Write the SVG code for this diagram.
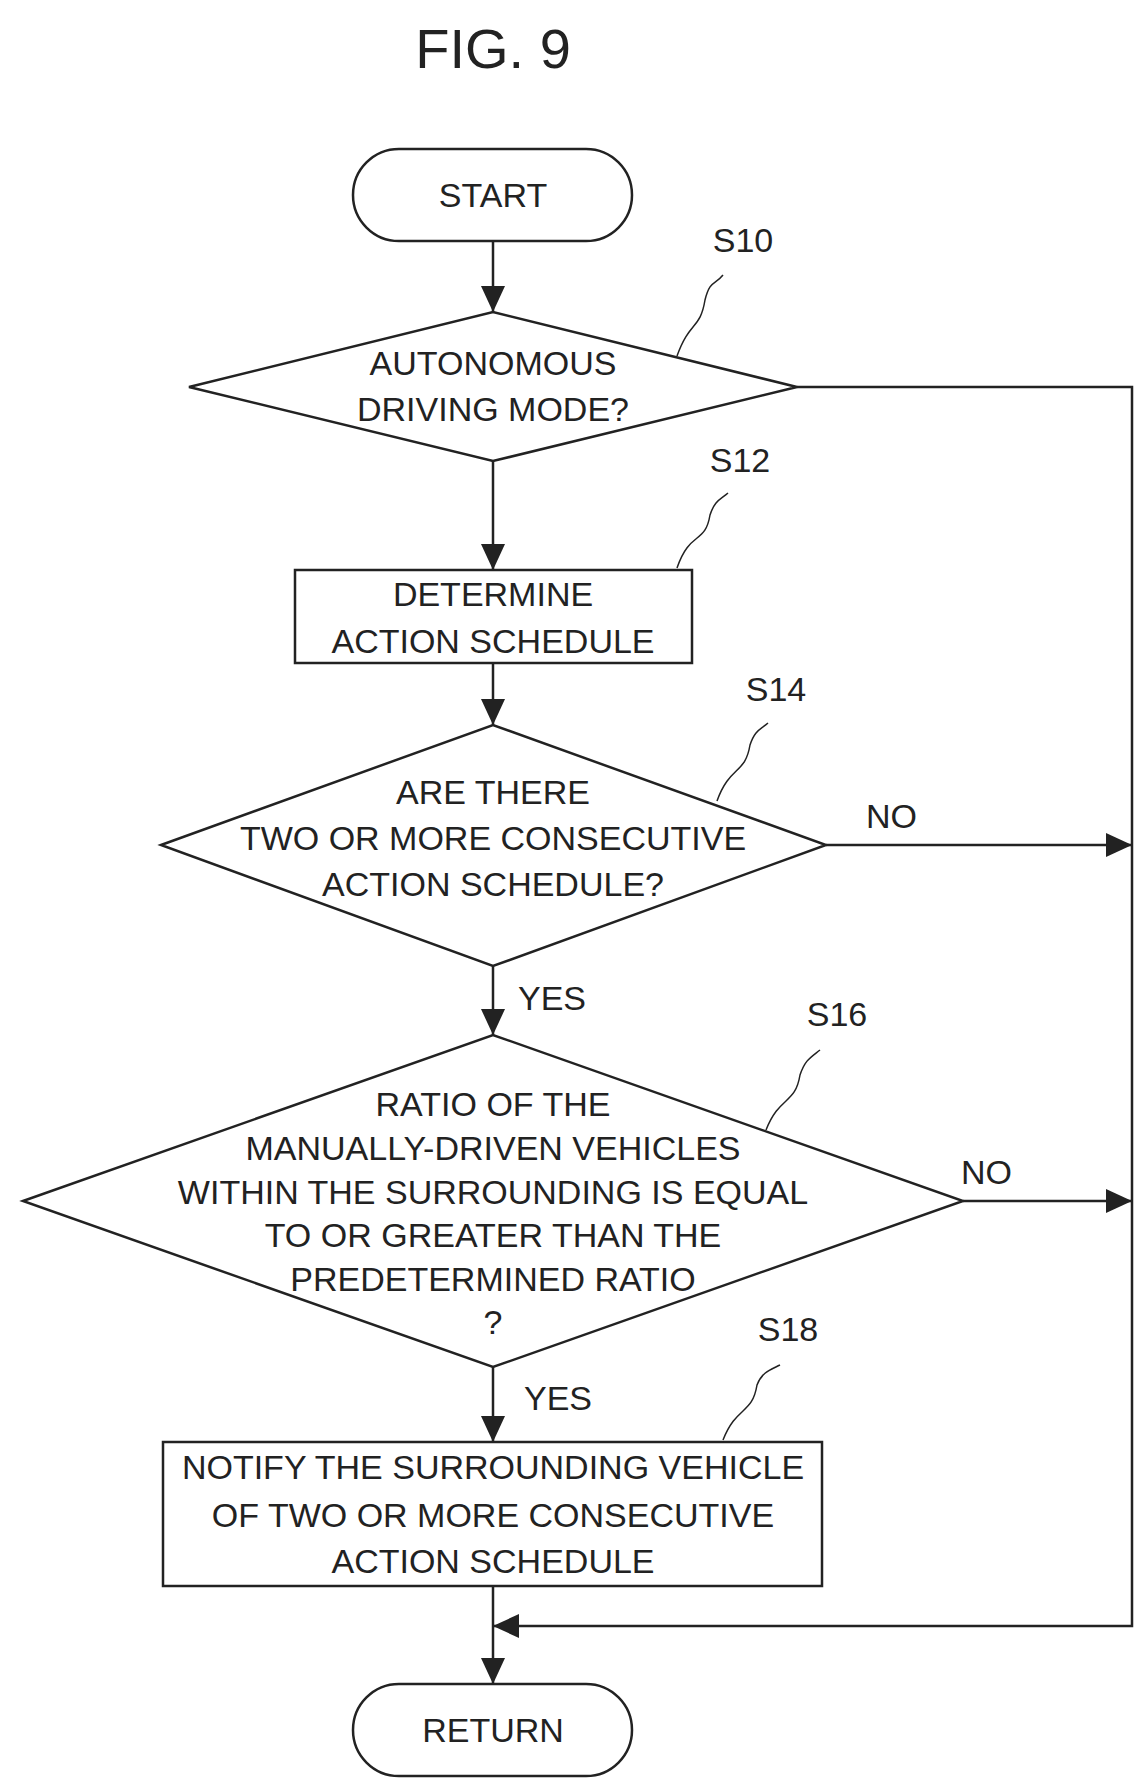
<svg xmlns="http://www.w3.org/2000/svg" width="1147" height="1790" viewBox="0 0 1147 1790">
<style>
.s{fill:none;stroke:#222;stroke-width:2.5}
.t{font-family:"Liberation Sans",Arial,sans-serif;font-size:34px;fill:#222;text-anchor:middle}
.l{font-family:"Liberation Sans",Arial,sans-serif;font-size:34px;fill:#222}
</style>
<defs><marker id="a" markerWidth="10" markerHeight="10" refX="9" refY="5" orient="auto" markerUnits="userSpaceOnUse" viewBox="0 0 10 10"><path d="M0,0L10,5L0,10z" fill="#222"/></marker>
<marker id="b" markerWidth="26" markerHeight="24" refX="26" refY="12" orient="auto" markerUnits="userSpaceOnUse"><path d="M0,0L26,12L0,24z" fill="#222"/></marker></defs>
<rect width="1147" height="1790" fill="#fff"/>
<text x="493" y="68" class="t" style="font-size:56px">FIG. 9</text>
<g id="connectors" class="s">
<path d="M493,241V312" marker-end="url(#b)"/>
<path d="M493,461V570" marker-end="url(#b)"/>
<path d="M493,663V725" marker-end="url(#b)"/>
<path d="M493,966V1035" marker-end="url(#b)"/>
<path d="M493,1367V1442" marker-end="url(#b)"/>
<path d="M493,1586V1684" marker-end="url(#b)"/>
<path d="M797,387H1132V1626H493" marker-end="url(#b)"/>
<path d="M826,845H1132" marker-end="url(#b)"/>
<path d="M963,1201H1132" marker-end="url(#b)"/>
<path d="M677,356C690,320 700,330 705,300C710,280 715,285 723,275" stroke-width="1.5"/>
<path d="M677,568C690,530 705,545 710,515C715,500 720,500 728,493" stroke-width="1.5"/>
<path d="M717,801C730,765 745,775 750,745C755,730 760,730 768,723" stroke-width="1.5"/>
<path d="M766,1130C780,1095 795,1105 800,1075C805,1060 810,1058 820,1050" stroke-width="1.5"/>
<path d="M723,1440C737,1405 752,1415 757,1385C762,1372 770,1370 780,1365" stroke-width="1.5"/>
</g>
<text x="866" y="828" class="l">NO</text>
<text x="961" y="1184" class="l">NO</text>
<text x="518" y="1010" class="l">YES</text>
<text x="524" y="1410" class="l">YES</text>
<g id="start"><rect x="353" y="149" width="279" height="92" rx="46" class="s"/><text x="493" y="207" class="t">START</text></g>
<g id="S10"><polygon points="189,387 493,312 797,387 493,461" class="s"/><text x="493" y="375" class="t">AUTONOMOUS</text><text x="493" y="421" class="t">DRIVING MODE?</text><text x="743" y="252" class="t">S10</text></g>
<g id="S12"><rect x="295" y="570" width="397" height="93" class="s"/><text x="493" y="606" class="t">DETERMINE</text><text x="493" y="653" class="t">ACTION SCHEDULE</text><text x="740" y="472" class="t">S12</text></g>
<g id="S14"><polygon points="161,845 493,725 826,845 493,966" class="s"/><text x="493" y="804" class="t">ARE THERE</text><text x="493" y="850" class="t">TWO OR MORE CONSECUTIVE</text><text x="493" y="896" class="t">ACTION SCHEDULE?</text><text x="776" y="701" class="t">S14</text></g>
<g id="S16"><polygon points="23,1201 493,1035 963,1201 493,1367" class="s"/>
<text x="493" y="1116" class="t">RATIO OF THE</text><text x="493" y="1160" class="t">MANUALLY-DRIVEN VEHICLES</text><text x="493" y="1204" class="t">WITHIN THE SURROUNDING IS EQUAL</text><text x="493" y="1247" class="t">TO OR GREATER THAN THE</text><text x="493" y="1291" class="t">PREDETERMINED RATIO</text><text x="493" y="1334" class="t">?</text><text x="837" y="1026" class="t">S16</text></g>
<g id="S18"><rect x="163" y="1442" width="659" height="144" class="s"/><text x="493" y="1479" class="t">NOTIFY THE SURROUNDING VEHICLE</text><text x="493" y="1527" class="t">OF TWO OR MORE CONSECUTIVE</text><text x="493" y="1573" class="t">ACTION SCHEDULE</text><text x="788" y="1341" class="t">S18</text></g>
<g id="return"><rect x="353" y="1684" width="279" height="92" rx="46" class="s"/><text x="493" y="1742" class="t">RETURN</text></g>
</svg>
